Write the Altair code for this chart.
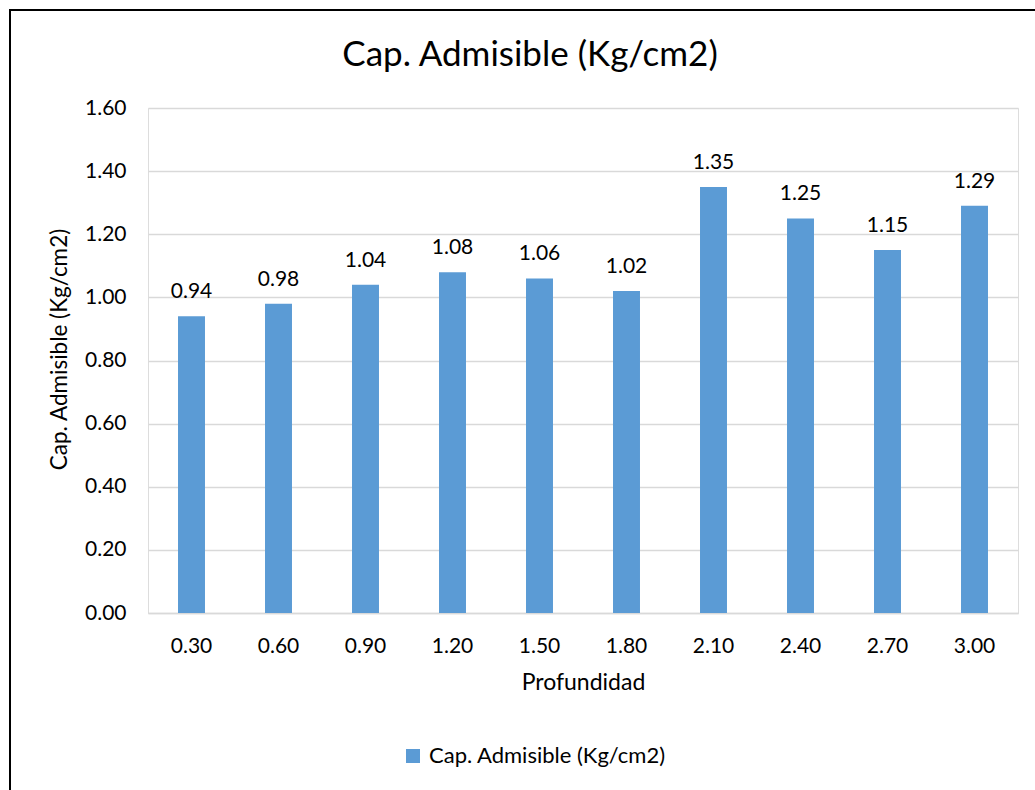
import altair as alt
import pandas as pd

profundidad = ["0.30", "0.60", "0.90", "1.20", "1.50", "1.80", "2.10", "2.40", "2.70", "3.00"]
cap_admisible = [0.94, 0.98, 1.04, 1.08, 1.06, 1.02, 1.35, 1.25, 1.15, 1.29]
serie = "Cap. Admisible (Kg/cm2)"
y_ticks = [0.0, 0.2, 0.4, 0.6, 0.8, 1.0, 1.2, 1.4, 1.6]

df = pd.DataFrame({"Profundidad": profundidad, "valor": cap_admisible, "serie": serie})

FONT = "Lato"
W, H = 870, 505
PL, PT = 148, 108

x = alt.X("Profundidad:N", sort=profundidad,
          scale=alt.Scale(paddingInner=0.69, paddingOuter=0.345),
          axis=alt.Axis(title="Profundidad", labelAngle=0, labelFontSize=21, titleFontSize=23,
                        labelPadding=22, titlePadding=15, ticks=False, domainColor="#d9d9d9",
                        domainWidth=1.5, labelColor="#000000", titleColor="#000000",
                        titleFontWeight="normal", labelFont=FONT, titleFont=FONT))
y = alt.Y("valor:Q", scale=alt.Scale(domain=[0, 1.6], nice=False),
          axis=alt.Axis(title="Cap. Admisible (Kg/cm2)", values=y_ticks, format=".2f",
                        labelFontSize=21, titleFontSize=22.5, ticks=False, domain=False,
                        labelPadding=22, titlePadding=13, titleY=241, gridColor="#d9d9d9", gridWidth=1.5,
                        labelColor="#000000", titleColor="#000000", titleFontWeight="normal",
                        labelFont=FONT, titleFont=FONT))

bars = alt.Chart(df).mark_bar(color="#5b9bd5").encode(
    x=x, y=y,
    color=alt.Color("serie:N", scale=alt.Scale(range=["#5b9bd5"]),
                    legend=alt.Legend(title=None, orient="none", legendX=254, legendY=637,
                                      symbolType="square", symbolSize=196, labelFontSize=22,
                                      labelFont=FONT, labelColor="#000000", symbolStrokeWidth=0,
                                      labelOffset=5, labelLimit=0)),
)

labels = alt.Chart(df).mark_text(baseline="alphabetic", dy=-18, fontSize=21, font=FONT, color="#000000").encode(
    x=alt.X("Profundidad:N", sort=profundidad), y="valor:Q", text=alt.Text("valor:Q", format=".2f")
)

border = alt.Chart(pd.DataFrame({"a": [0]})).mark_rect(fill=None, stroke="#000000", strokeWidth=2).encode(
    x=alt.value(10 - PL), x2=alt.value(1060 - PL), y=alt.value(10 - PT), y2=alt.value(820 - PT)
)

title = alt.Chart(pd.DataFrame({"t": [serie]})).mark_text(
    fontSize=35, font=FONT, color="#000000", baseline="middle", align="center"
).encode(text="t:N", x=alt.value(530 - PL), y=alt.value(55 - PT))

chart = alt.layer(border, bars, labels, title).properties(
    width=W, height=H,
    autosize=alt.AutoSizeParams(type="none"),
    padding={"left": PL, "top": PT, "right": 1035 - PL - W, "bottom": 790 - PT - H},
).configure_view(stroke=None).configure(background="#ffffff")

chart.save("out.html", embed_options={"renderer": "svg", "actions": False})
